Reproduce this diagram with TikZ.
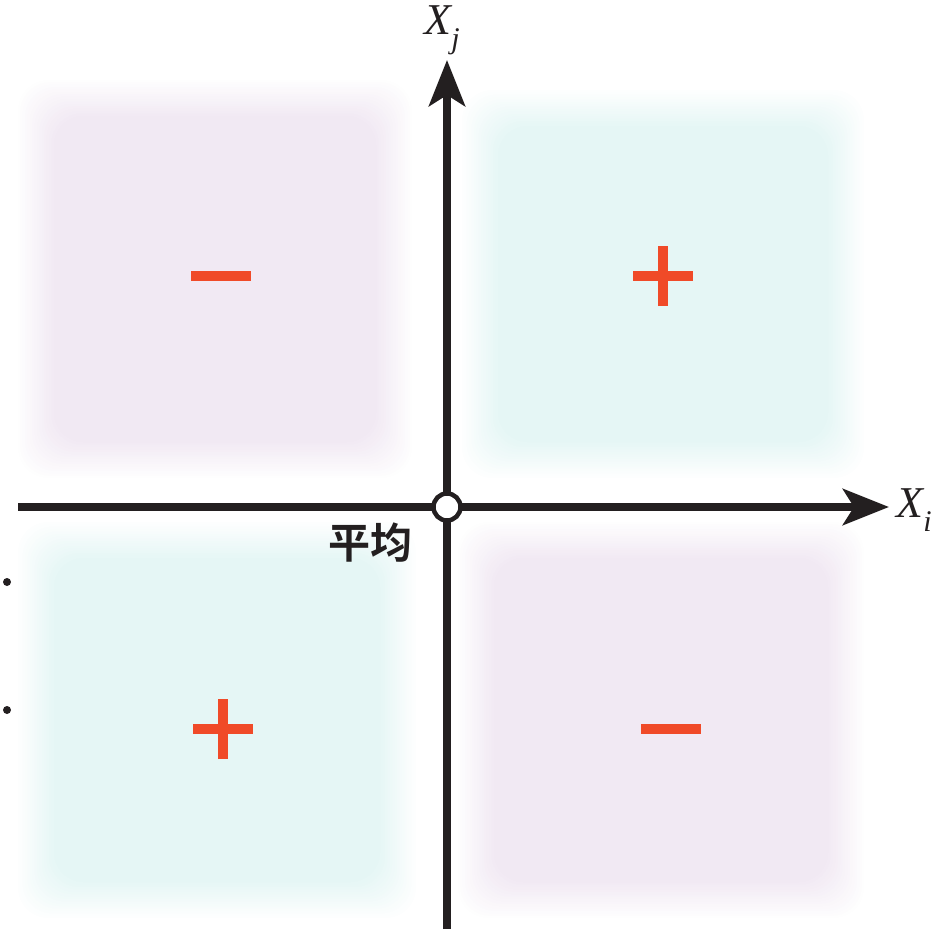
\documentclass[tikz,border=0pt]{standalone}
\usepackage{fontspec}
\setmainfont{Liberation Serif}
\newfontfamily\cjk{Noto Sans CJK SC Bold}
\usetikzlibrary{arrows.meta}
\definecolor{lilac}{HTML}{F1E9F3}
\definecolor{mint}{HTML}{E5F6F5}
\definecolor{axisblack}{HTML}{231F20}
\definecolor{signred}{HTML}{F04A28}
\newcommand{\fadesq}[5]{%
  \foreach \k in {0,...,15}{%
    \pgfmathsetmacro{\inset}{\k*2.4}%
    \pgfmathsetmacro{\mixv}{(\k+1)*100/16}%
    \fill[#5!\mixv!white, rounded corners=30pt]
      ({#1+\inset},{#2+\inset}) rectangle ({#3-\inset},{#4-\inset});
  }%
}
\tikzset{
  axis/.style={draw=axisblack, line width=8pt, -{Stealth[length=46pt,width=36pt,inset=11pt]}},
  signbar/.style={draw=signred, line width=10pt},
  lbl/.style={inner sep=0pt, text=axisblack},
}
\begin{document}
\begin{tikzpicture}[x=1pt,y=-1pt]
\useasboundingbox (0,0) rectangle (942,929);
% quadrant fields
\fadesq{18}{80}{412}{478}{lilac}
\fadesq{462}{90}{864}{478}{mint}
\fadesq{18}{522}{416}{918}{mint}
\fadesq{458}{522}{864}{918}{lilac}
% signs
\coordinate (m1) at (221,276);
\draw[signbar] ([xshift=-30pt]m1) -- ([xshift=30pt]m1);
\coordinate (p1) at (663,276);
\draw[signbar] ([xshift=-30pt]p1) -- ([xshift=30pt]p1);
\draw[signbar] ([yshift=-30pt]p1) -- ([yshift=30pt]p1);
\coordinate (p2) at (223,729);
\draw[signbar] ([xshift=-30pt]p2) -- ([xshift=30pt]p2);
\draw[signbar] ([yshift=-30pt]p2) -- ([yshift=30pt]p2);
\coordinate (m2) at (671,729);
\draw[signbar] ([xshift=-30pt]m2) -- ([xshift=30pt]m2);
% axes
\coordinate (xl) at (18,507);
\coordinate (xr) at (889,507);
\coordinate (yb) at (447,929);
\coordinate (yt) at (447,60);
\draw[axis] (xl) -- (xr);
\draw[axis] (yb) -- (yt);
\node[circle, draw=axisblack, fill=white, line width=4.5pt, minimum size=27pt, inner sep=0pt] (o) at (447,507) {};
% labels
\node[lbl] (xj) at (442,30) {\fontsize{44}{44}\selectfont\itshape X\raisebox{-0.32em}{\fontsize{30}{30}\selectfont j}};
\node[lbl] (xi) at (914,510) {\fontsize{44}{44}\selectfont\itshape X\raisebox{-0.32em}{\fontsize{30}{30}\selectfont i}};
\node[lbl] (avg) at (370,543) {\fontsize{42}{42}\selectfont\cjk 平均};
% bullets
\fill[axisblack] (7,582) circle (4pt);
\fill[axisblack] (7,710) circle (4pt);
\end{tikzpicture}
\end{document}
